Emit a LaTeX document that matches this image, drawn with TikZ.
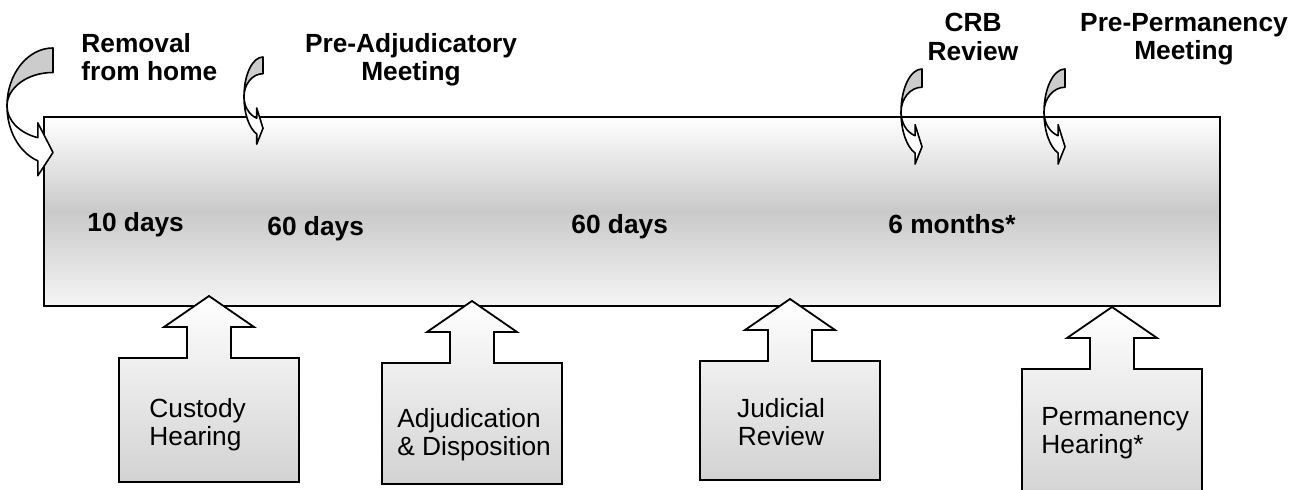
\documentclass[tikz,border=0pt]{standalone}
\usepackage{fontspec}
\setmainfont{Liberation Sans}

\begin{document}
\begin{tikzpicture}[x=0.5pt, y=-0.5pt]
  \newcommand\lblsize{\fontsize{13.15}{14.25}\selectfont}
  \newcommand\boxhalfw{90}
  \newcommand\shafthalfw{22}
  \newcommand\headhalfw{45}
  \newcommand\headh{31}

  \tikzset{tlbar/.style={draw, line width=1pt, top color=white, bottom color=gray!8, middle color=gray!42, inner sep=0pt}}
  \tikzset{tlcallout/.style={draw, line width=0.9pt, line join=miter, top color=white, bottom color=gray!35}}
  \tikzset{bentband/.style={draw, line width=0.8pt, line join=round}}
  \tikzset{bentback/.style={bentband, fill=gray!40}}
  \tikzset{bentfront/.style={bentband, fill=white}}
  \tikzset{evlbl/.style={font=\lblsize\bfseries, inner sep=0pt}}
  \tikzset{spanlbl/.style={font=\lblsize\bfseries, inner sep=0pt, anchor=base west}}
  \tikzset{calloutlbl/.style={font=\lblsize, inner sep=0pt}}

  \useasboundingbox (0,0) rectangle (1305,490);
  \clip (0,0) rectangle (1305,490);

  % timeline bar
  \node[tlbar, anchor=north west, minimum width=588pt, minimum height=94.5pt] (bar) at (43,116) {};

  % hearings below the bar
  \foreach \cx/\ctop/\cbot [count=\i] in {209/358/482, 472/363/484, 790/361/480, 1112/369/500}{
    \path[tlcallout] (\cx-\boxhalfw,\ctop) -- (\cx-\shafthalfw,\ctop) -- ++(0,-\headh)
      -- (\cx-\headhalfw,\ctop-\headh) -- (\cx,\ctop-2*\headh) -- (\cx+\headhalfw,\ctop-\headh)
      -- (\cx+\shafthalfw,\ctop-\headh) -- ++(0,\headh) -- (\cx+\boxhalfw,\ctop)
      -- (\cx+\boxhalfw,\cbot) -- (\cx-\boxhalfw,\cbot) -- cycle;
  }
  \foreach \lx/\ly/\anc/\al/\txt [count=\i] in {149/398/north west/left/{Custody\\Hearing},
      397/408/north west/left/{Adjudication\\\& Disposition}, 781/398/north/center/{Judicial\\Review},
      1041/407/north west/left/{Permanency\\Hearing*}}{
    \node[calloutlbl, anchor=\anc, align=\al] (co\i) at (\lx,\ly) {\txt};
  }

  % meetings above the bar
  \foreach \ax/\ay/\aw/\ah in {7/48/46/129, 244/57/19/88, 901/69/21/96, 1044/69/21/96}{
    \begin{scope}[shift={(\ax,\ay)}, xscale=\aw, yscale=\ah]
      \path[bentback] (1,0) -- (1,0.19) arc[start angle=270, end angle=180, x radius=1, y radius=0.26]
        arc[start angle=180, end angle=270, x radius=1, y radius=0.45] -- cycle;
      \path[bentfront] (0,0.45) arc[start angle=180, end angle=109.27, x radius=1, y radius=0.26]
        -- (0.67,0.58) -- (1,0.81) -- (0.67,0.99) -- (0.67,0.875)
        arc[start angle=109.27, end angle=180, x radius=1, y radius=0.45] -- cycle;
    \end{scope}
  }
  \foreach \ex/\ey/\anc/\al/\txt [count=\i] in {81/33/north west/left/{Removal\\from home},
      411/33/north/center/{Pre-Adjudicatory\\Meeting}, 973/13/north/center/{CRB\\Review},
      1184/13/north/center/{Pre-Permanency\\Meeting}}{
    \node[evlbl, anchor=\anc, align=\al] (ev\i) at (\ex,\ey) {\txt};
  }

  % time spans
  \foreach \sx/\sy/\txt [count=\i] in {87/232/10 days, 267/236/60 days, 571/234/60 days, 888/234/6 months*}{
    \node[spanlbl] (sp\i) at (\sx,\sy) {\txt};
  }
\end{tikzpicture}
\end{document}
